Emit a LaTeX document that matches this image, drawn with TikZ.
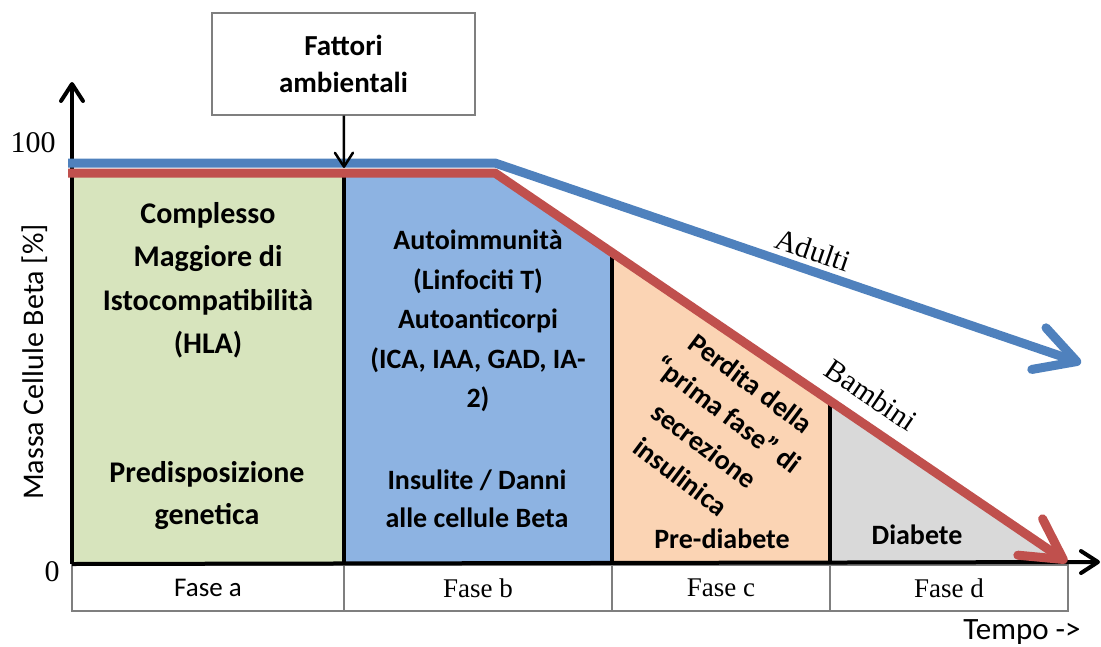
\documentclass[tikz,border=0pt]{standalone}
\usepackage{fontspec}
\setmainfont{Carlito}
\newfontfamily\timesfont{Liberation Serif}
\usetikzlibrary{arrows.meta}
\definecolor{fasea}{HTML}{D7E4BD}
\definecolor{faseb}{HTML}{8DB3E2}
\definecolor{fasec}{HTML}{FBD4B4}
\definecolor{fased}{HTML}{D9D9D9}
\definecolor{adulti}{HTML}{4F81BD}
\definecolor{bambini}{HTML}{C0504D}
\definecolor{bordo}{HTML}{7F7F7F}
\newcommand{\curvew}{9pt}

\begin{document}
\begin{tikzpicture}[x=1pt,y=-1pt]
            \useasboundingbox (0,0) rectangle (1101,646);

            \coordinate (o) at (72,564);
            \coordinate (ytip) at (72,82);
            \coordinate (xtip) at (1100,562);
            \coordinate (bstart) at (68,163);
            \coordinate (bknee) at (495,163);
            \coordinate (bend) at (1081,363);
            \coordinate (rstart) at (68,173);
            \coordinate (rknee) at (495,173);
            \coordinate (rend) at (1067,562);
            \coordinate (fattend) at (344,168);

            \fill[fasea] (72,173) rectangle (344,562);
            \fill[faseb] (344,173) -- (495,173) -- (612,252.6) -- (612,562) -- (344,562) -- cycle;
            \fill[fasec] (612,252.6) -- (830,400.8) -- (830,562) -- (612,562) -- cycle;
            \fill[fased] (830,400.8) -- (1067,562) -- (830,562) -- cycle;
            \draw[line width=3.5pt] (344,173) -- (344,562)
                (612,252.6) -- (612,562) (830,400.8) -- (830,562);

            \begin{scope}[every node/.style={draw=bordo,line width=1.3pt,minimum height=46pt,
                inner sep=0pt,font=\fontsize{27}{30}\selectfont\timesfont}]
                \node[minimum width=272pt,font=\fontsize{27}{30}\selectfont] (fa) at (208,588) {Fase a};
                \node[minimum width=268pt] (fb) at (478,588) {Fase b};
                \node[minimum width=218pt] (fc) at (721,588) {Fase c};
                \node[minimum width=238pt] (fd) at (949,588) {Fase d};
            \end{scope}

            \begin{scope}[>={Straight Barb[length=17pt,width=22pt,round]}]
                \draw[->,line width=4pt] (o) -- (ytip);
                \draw[->,line width=4pt] (o) -- (xtip);
            \end{scope}

            \begin{scope}[>={Straight Barb[length=40pt,width=44pt,round]},
                every path/.style={line width=\curvew,line join=round}]
                \draw[->,bambini] (rstart) -- (rknee) -- (rend);
                \draw[->,adulti] (bstart) -- (bknee) -- (bend);
            \end{scope}

            \node[draw=bordo,line width=1.3pt,minimum width=263pt,minimum height=102pt,
                align=center,font=\bfseries\fontsize{29}{37}\selectfont] (fatt) at (343.5,64)
                {Fattori\\ambientali};
            \path [-{Straight Barb[length=14pt,width=18pt,round]},line width=2.5pt]
                (fatt) edge (fattend);

            \begin{scope}[every node/.style={align=center,font=\bfseries\fontsize{28}{39.5}\selectfont}]
                \node[font=\bfseries\fontsize{30}{43.5}\selectfont] (hla) at (208,280)
                    {Complesso\\Maggiore di\\Istocompatibilità\\(HLA)};
                \node[font=\bfseries\fontsize{30}{42}\selectfont] (genet) at (207,496)
                    {Predisposizione\\genetica};
                \node (autoimm) at (478,321)
                    {Autoimmunità\\(Linfociti T)\\Autoanticorpi\\(ICA, IAA, GAD, IA-\\2)};
                \node[font=\bfseries\fontsize{28}{38}\selectfont] (insul) at (477,499)
                    {Insulite / Danni\\alle cellule Beta};
                \node[rotate=-37,font=\bfseries\fontsize{28}{39}\selectfont] (perdita) at (716,430)
                    {Perdita della\\“prima fase” di\\secrezione\\insulinica};
                \node (prediab) at (722,539) {Pre-diabete};
                \node (diab) at (917,535) {Diabete};
            \end{scope}

            \begin{scope}[every node/.style={font=\fontsize{30}{32}\selectfont\timesfont}]
                \node (cento) at (33,143) {100};
                \node (zero) at (52,572) {0};
                \node[rotate=-18.9] (adu) at (813,250) {Adulti};
                \node[rotate=-34.2] (bamb) at (871,395) {Bambini};
            \end{scope}

            \node[rotate=90,font=\fontsize{30}{32}\selectfont] (massa) at (35,362) {Massa Cellule Beta [\%]};
            \node[font=\fontsize{31}{33}\selectfont] (tempo) at (1022,632) {Tempo ->};
            \end{tikzpicture}
\end{document}
